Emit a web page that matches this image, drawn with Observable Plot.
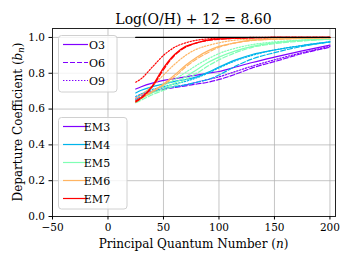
<!DOCTYPE html>
<html>
<head>
<meta charset="utf-8">
<script src="https://cdn.jsdelivr.net/npm/d3@7"></script>
<script src="https://cdn.jsdelivr.net/npm/@observablehq/plot@0.6"></script>
<style>
  body { margin: 0; background: #fff; }
  #wrap { position: relative; width: 352px; height: 264px; font-family: "DejaVu Serif", serif; }
  #title { position: absolute; left: 0; width: 387px; top: 12px; text-align: center; font-size: 14px; line-height: 14px; color: #000; font-family: "DejaVu Serif", serif; z-index: 2; }
  svg text { font-family: "DejaVu Serif", serif; }
</style>
</head>
<body>
<div id="wrap"><div id="title">Log(O/H) + 12 = 8.60</div></div>
<script>
// ---- data ----
const nValues = [25, 30, 40, 50, 60, 70, 80, 90, 100, 115, 130, 150, 175, 200];
const models = ["EM3", "EM4", "EM5", "EM6", "EM7"];
const ovals = ["O3", "O6", "O9"];
const modelColors = ["#8000ff", "#00b4eb", "#80ffb4", "#ffb462", "#ff0000"];
const ovalDash = ["none", "5,2", "1.4,1.6"];

const em3_o3 = [0.712, 0.725, 0.745, 0.760, 0.770, 0.780, 0.790, 0.800, 0.810, 0.835, 0.860, 0.890, 0.925, 0.957];
const em3_o6 = [0.650, 0.670, 0.695, 0.710, 0.720, 0.730, 0.740, 0.750, 0.765, 0.795, 0.830, 0.865, 0.910, 0.945];
const em3_o9 = [0.660, 0.680, 0.700, 0.715, 0.725, 0.735, 0.750, 0.765, 0.780, 0.810, 0.840, 0.875, 0.915, 0.950];
const em4_o3 = [0.690, 0.705, 0.725, 0.740, 0.755, 0.765, 0.780, 0.805, 0.835, 0.875, 0.905, 0.930, 0.955, 0.975];
const em4_o6 = [0.650, 0.670, 0.695, 0.715, 0.725, 0.735, 0.750, 0.765, 0.790, 0.840, 0.880, 0.915, 0.950, 0.975];
const em4_o9 = [0.670, 0.685, 0.710, 0.725, 0.740, 0.755, 0.775, 0.800, 0.830, 0.870, 0.900, 0.930, 0.955, 0.975];
const em5_o3 = [0.640, 0.660, 0.690, 0.715, 0.745, 0.780, 0.820, 0.860, 0.890, 0.925, 0.950, 0.970, 0.985, 0.990];
const em5_o6 = [0.635, 0.650, 0.680, 0.705, 0.730, 0.765, 0.800, 0.840, 0.875, 0.915, 0.945, 0.965, 0.980, 0.990];
const em5_o9 = [0.645, 0.665, 0.700, 0.730, 0.765, 0.805, 0.845, 0.880, 0.910, 0.940, 0.960, 0.975, 0.985, 0.990];
const em6_o3 = [0.645, 0.665, 0.700, 0.740, 0.790, 0.845, 0.890, 0.925, 0.950, 0.970, 0.985, 0.990, 0.995, 0.998];
const em6_o6 = [0.640, 0.660, 0.695, 0.735, 0.780, 0.835, 0.880, 0.915, 0.945, 0.970, 0.983, 0.990, 0.995, 0.998];
const em6_o9 = [0.660, 0.680, 0.730, 0.790, 0.850, 0.900, 0.935, 0.955, 0.970, 0.985, 0.990, 0.995, 0.998, 1.000];
const em7_o3 = [0.645, 0.665, 0.730, 0.830, 0.905, 0.950, 0.970, 0.985, 0.992, 0.996, 0.998, 1.000, 1.000, 1.000];
const em7_o6 = [0.640, 0.660, 0.725, 0.820, 0.900, 0.945, 0.970, 0.983, 0.990, 0.995, 0.998, 1.000, 1.000, 1.000];
const em7_o9 = [0.750, 0.770, 0.835, 0.900, 0.945, 0.970, 0.985, 0.992, 0.996, 0.998, 1.000, 1.000, 1.000, 1.000];
const refN = [25, 200];
const refB = [1.0, 1.0];

const xTicks = [-50, 0, 50, 100, 150, 200];
const yTicks = [0.0, 0.2, 0.4, 0.6, 0.8, 1.0];

const seriesTable = [
  ["EM3", "O3", em3_o3], ["EM3", "O6", em3_o6], ["EM3", "O9", em3_o9],
  ["EM4", "O3", em4_o3], ["EM4", "O6", em4_o6], ["EM4", "O9", em4_o9],
  ["EM5", "O3", em5_o3], ["EM5", "O6", em5_o6], ["EM5", "O9", em5_o9],
  ["EM6", "O3", em6_o3], ["EM6", "O6", em6_o6], ["EM6", "O9", em6_o9],
  ["EM7", "O3", em7_o3], ["EM7", "O6", em7_o6], ["EM7", "O9", em7_o9]
];

const font = "DejaVu Serif";
const lineMarks = seriesTable.map(([m, o, vals]) =>
  Plot.line(nValues.map((n, i) => ({n, b: vals[i]})), {
    x: "n", y: "b",
    stroke: modelColors[models.indexOf(m)],
    strokeWidth: 1.2,
    strokeDasharray: ovalDash[ovals.indexOf(o)],
    curve: "monotone-x"
  })
);

const fmt = d => String(d).replace("-", "\u2212");

const chart = Plot.plot({
  width: 352, height: 264,
  marginTop: 28, marginLeft: 52, marginRight: 17, marginBottom: 48,
  style: {fontFamily: font, fontSize: "10.5px", color: "#000", background: "transparent", overflow: "visible"},
  x: {domain: [-50, 205], ticks: xTicks, tickFormat: fmt, label: null},
  y: {domain: [0, 1.05], ticks: yTicks, tickFormat: d3.format(".1f"), label: null},
  marks: [
    Plot.gridX(xTicks, {stroke: "#b0b0b0", strokeOpacity: 0.8, strokeWidth: 0.9}),
    Plot.gridY(yTicks, {stroke: "#b0b0b0", strokeOpacity: 0.8, strokeWidth: 0.9}),
    ...lineMarks,
    Plot.line(refN.map((n, i) => ({n, b: refB[i]})), {x: "n", y: "b", stroke: "#000", strokeWidth: 1.3}),
    Plot.frame({stroke: "#222", strokeWidth: 1}),
    Plot.axisX(xTicks, {tickSize: 3.5, tickPadding: 4, tickFormat: fmt, fontSize: 10.5, fontFamily: font, label: null}),
    Plot.axisY(yTicks, {tickSize: 3.5, tickPadding: 4, tickFormat: d3.format(".1f"), fontSize: 10.5, fontFamily: font, label: null})
  ]
});

const wrap = document.getElementById("wrap");
wrap.insertBefore(chart, wrap.firstChild);
chart.style.position = "absolute";
chart.style.left = "0px";
chart.style.top = "0px";

const svg = d3.select(chart);
// axis labels
const xl = svg.append("text").attr("x", 193.5).attr("y", 247.5).attr("text-anchor", "middle")
  .attr("font-family", font).attr("font-size", 12).attr("fill", "#000");
xl.append("tspan").text("Principal Quantum Number (");
xl.append("tspan").attr("font-style", "italic").text("n");
xl.append("tspan").text(")");

const yl = svg.append("text").attr("transform", "translate(22,122) rotate(-90)").attr("text-anchor", "middle")
  .attr("font-family", font).attr("font-size", 12).attr("fill", "#000");
yl.append("tspan").text("Departure Coefficient (");
yl.append("tspan").attr("font-style", "italic").text("b");
yl.append("tspan").attr("font-style", "italic").attr("font-size", 8.5).attr("dy", 2).text("n");
yl.append("tspan").attr("dy", -2).text(")");

// legends
function legend(x0, y0, w, h, entries) {
  const g = svg.append("g");
  g.append("rect").attr("x", x0).attr("y", y0).attr("width", w).attr("height", h).attr("rx", 3)
    .attr("fill", "#fff").attr("fill-opacity", 0.8).attr("stroke", "#d0d0d0").attr("stroke-width", 1);
  entries.forEach(e => {
    g.append("line").attr("x1", 63).attr("x2", 88).attr("y1", e.y).attr("y2", e.y)
      .attr("stroke", e.color).attr("stroke-width", 1.2).attr("stroke-dasharray", e.dash);
    g.append("text").attr("x", 97).attr("y", e.y + 4).attr("font-family", font).attr("font-size", 11)
      .attr("fill", "#000").text(e.label);
  });
}
legend(58.5, 35.5, 58.5, 56.5, ovals.map((o, i) => ({label: o, color: modelColors[0], dash: ovalDash[i], y: 44.5 + 18 * i})));
legend(58.5, 117.5, 68.5, 91.5, models.map((m, i) => ({label: m, color: modelColors[i], dash: "none", y: 126.5 + 18 * i})));
</script>
</body>
</html>
